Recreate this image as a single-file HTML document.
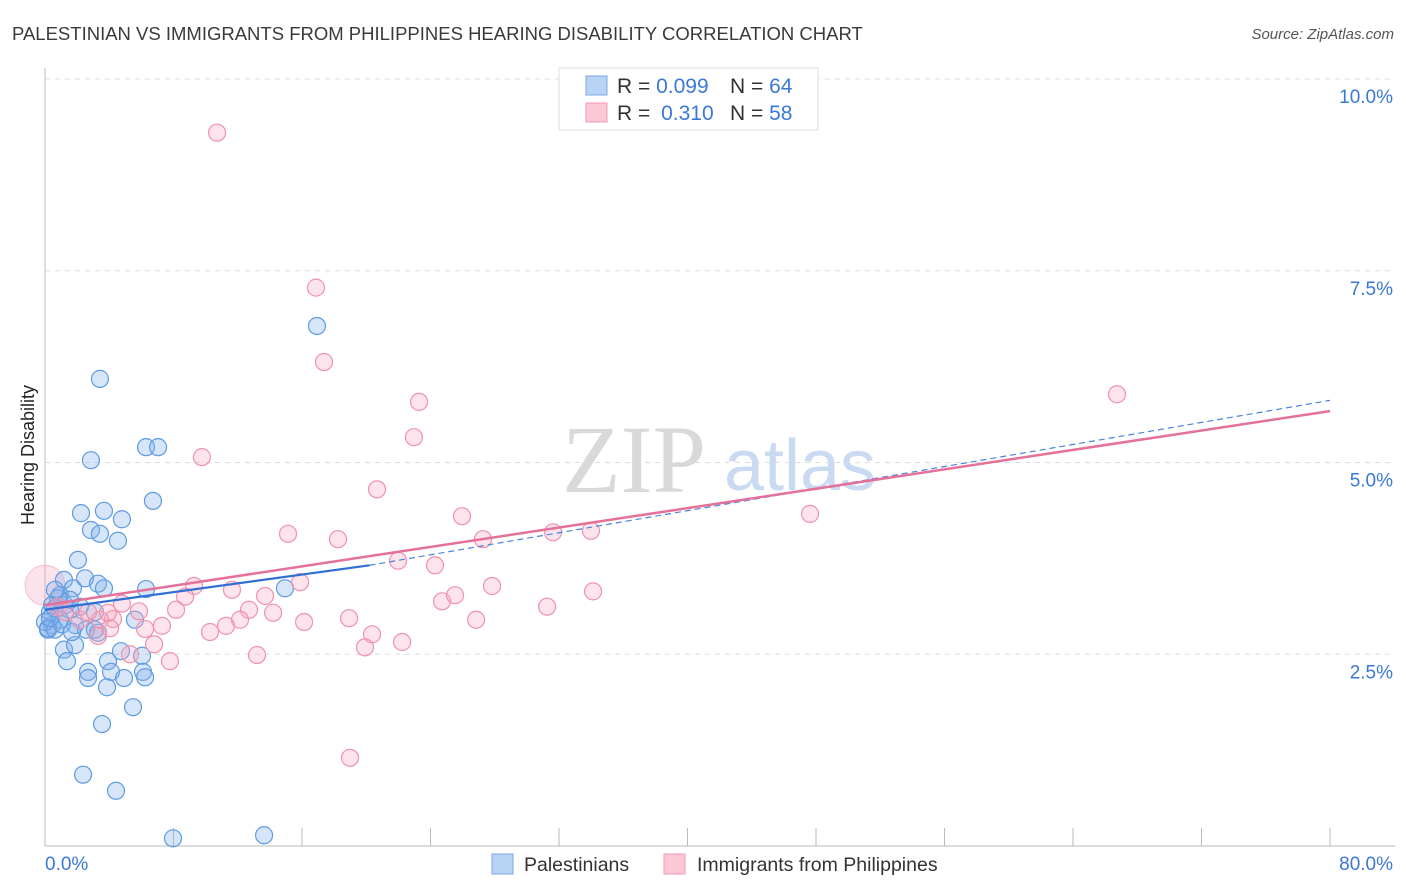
<!DOCTYPE html>
<html><head><meta charset="utf-8">
<style>
body{margin:0;background:#fff;font-family:"Liberation Sans",sans-serif;}
#wrap{position:relative;width:1406px;height:892px;overflow:hidden;}
</style></head>
<body>
<div id="wrap">
<svg id="chart" width="1406" height="892" xmlns="http://www.w3.org/2000/svg">
<text x="12" y="40" font-size="18.5" fill="#3a3a3a">PALESTINIAN VS IMMIGRANTS FROM PHILIPPINES HEARING DISABILITY CORRELATION CHART</text>
<text x="1394" y="39" font-size="15" font-style="italic" fill="#555" text-anchor="end">Source: ZipAtlas.com</text>
<text x="634" y="492" font-size="96" fill="#d9d9d9" font-family="Liberation Serif" text-anchor="middle">ZIP</text>
<text x="800" y="490" font-size="72" fill="#c9daf2" text-anchor="middle">atlas</text>
<text x="34" y="455" font-size="18" fill="#222" text-anchor="middle" transform="rotate(-90 34 455)">Hearing Disability</text>
<g id="grid"></g><g id="axes"></g><g id="pts"></g><g id="lines"></g>
<g>
<rect x="559" y="68" width="259" height="62" fill="#fff" stroke="#ddd"/>
<rect x="586" y="76" width="21" height="19" fill="#b9d3f5" stroke="#7aa8e6"/>
<rect x="586" y="103" width="21" height="19" fill="#fcc8d6" stroke="#f09ab2"/>
<text x="617" y="93" font-size="21" fill="#333">R = <tspan fill="#3b78d8">0.099</tspan><tspan x="730">N = </tspan><tspan fill="#3b78d8">64</tspan></text>
<text x="617" y="120" font-size="21" fill="#333">R = <tspan fill="#3b78d8" dx="5">0.310</tspan><tspan x="730">N = </tspan><tspan fill="#3b78d8">58</tspan></text>
</g>
<g>
<rect x="492" y="854" width="21" height="20" fill="#b9d3f5" stroke="#7aa8e6"/>
<text x="524" y="871" font-size="19.5" fill="#333">Palestinians</text>
<rect x="664" y="854" width="21" height="20" fill="#fcc8d6" stroke="#f09ab2"/>
<text x="697" y="871" font-size="19.5" fill="#333">Immigrants from Philippines</text>
</g>
</svg>
</div>
<script>
const blueX=[3.42,16.93,6.29,7.04,2.86,6.72,2.24,3.67,4.79,2.86,3.42,4.54,2.05,1.18,2.49,3.30,3.67,6.29,1.74,0.93,1.25,1.56,0.62,0.31,0.93,0.44,0.19,1.87,2.55,3.30,5.60,1.18,1.87,1.37,3.92,4.73,6.04,2.68,4.11,6.10,2.68,4.92,3.86,6.23,5.48,3.55,2.37,4.42,7.97,13.64,14.94,0,0.19,0.62,2.18,1.56,0.81,0.44,3.11,0.62,1.06,1.68,3.11,0.31];
const blueY=[6.09,6.78,5.20,5.20,5.03,4.50,4.34,4.37,4.26,4.12,4.07,3.98,3.73,3.47,3.49,3.42,3.36,3.35,3.36,3.27,3.14,3.08,3.10,3.05,2.95,2.88,2.82,2.88,2.82,2.78,2.95,2.56,2.62,2.41,2.41,2.54,2.48,2.27,2.27,2.27,2.19,2.19,2.07,2.20,1.81,1.59,0.93,0.72,0.10,0.14,3.36,2.92,2.84,2.82,3.12,3.21,3.23,3.14,3.05,3.34,2.89,2.79,2.82,2.97];
const pinkX=[10.71,16.87,17.37,66.74,23.29,22.97,9.77,20.67,47.63,25.96,15.13,18.24,27.27,31.63,33.99,21.98,24.28,27.83,34.12,9.28,8.72,11.64,13.70,15.88,4.79,5.85,8.16,12.70,14.20,24.72,25.53,31.26,4.23,7.28,6.23,12.14,16.13,18.93,26.84,10.27,11.27,20.36,3.30,5.29,6.79,7.78,13.20,19.92,22.23,18.99,0.81,1.25,2.18,3.42,4.05,2.68,3.92];
const pinkY=[9.30,7.28,6.31,5.89,5.79,5.33,5.07,4.65,4.33,4.30,4.07,4.00,4.00,4.09,4.11,3.72,3.66,3.39,3.32,3.39,3.25,3.34,3.26,3.44,3.16,3.06,3.08,3.08,3.04,3.19,3.27,3.12,2.96,2.87,2.83,2.95,2.92,2.97,2.95,2.79,2.87,2.76,2.74,2.50,2.63,2.41,2.49,2.59,2.66,1.15,3.12,3.05,2.95,2.95,2.84,3.05,3.04];
const yTicks=[2.5,5.0,7.5,10.0];
const xTicks=[0,8,16,24,32,40,48,56,64,72,80];
const blueTrend=[[0,3.08],[20.2,3.66]];
const blueDash=[[20.2,3.66],[80,5.81]];
const pinkTrend=[[0,3.14],[80,5.67]];
const NS='http://www.w3.org/2000/svg';
const X=v=>45+v/80*1285, Y=v=>846-v*76.7;
function mk(tag,attrs,parent){const e=document.createElementNS(NS,tag);for(const k in attrs)e.setAttribute(k,attrs[k]);parent.appendChild(e);return e;}
const grid=document.getElementById('grid'),axes=document.getElementById('axes'),pts=document.getElementById('pts'),lines=document.getElementById('lines');
yTicks.forEach(t=>{const l=mk('line',{x1:45,x2:1395,y1:Y(t),y2:Y(t),stroke:'#ddd','stroke-dasharray':'5,5'},grid);


const tx=mk('text',{x:1393,y:Y(t)+24,'font-size':19,fill:'#3b78d8','text-anchor':'end'},axes);tx.textContent=t.toFixed(1)+'%';

});
mk('line',{x1:45,x2:45,y1:68,y2:846,stroke:'#bbb'},axes);
mk('line',{x1:45,x2:1395,y1:846,y2:846,stroke:'#bbb'},axes);
xTicks.forEach(t=>{const l=mk('line',{x1:X(t),x2:X(t),y1:828,y2:846,stroke:'#bbb'},axes);

});
const xl0=mk('text',{x:45,y:870,'font-size':19,fill:'#3b78d8'},axes);xl0.textContent='0.0%';


const xl1=mk('text',{x:1393,y:870,'font-size':19,fill:'#3b78d8','text-anchor':'end'},axes);xl1.textContent='80.0%';


const big=mk('circle',{cx:X(0),cy:Y(3.40),r:20,fill:'rgba(245,160,185,0.3)',stroke:'rgba(240,140,170,0.5)'},pts);


blueX.forEach((v,i)=>{const c=mk('circle',{cx:X(v),cy:Y(blueY[i]),r:8.5,fill:'rgba(130,175,235,0.33)',stroke:'#5e9be2','stroke-width':1.2},pts);

});
pinkX.forEach((v,i)=>{const c=mk('circle',{cx:X(v),cy:Y(pinkY[i]),r:8.5,fill:'rgba(248,170,195,0.33)',stroke:'#ef92ae','stroke-width':1.2},pts);

});
const bd=mk('line',{x1:X(blueDash[0][0]),y1:Y(blueDash[0][1]),x2:X(blueDash[1][0]),y2:Y(blueDash[1][1]),stroke:'#4a84da','stroke-width':1.2,'stroke-dasharray':'6,4'},lines);


const pt=mk('line',{x1:X(pinkTrend[0][0]),y1:Y(pinkTrend[0][1]),x2:X(pinkTrend[1][0]),y2:Y(pinkTrend[1][1]),stroke:'#e5709a','stroke-width':2.5},lines);


const bt=mk('line',{x1:X(blueTrend[0][0]),y1:Y(blueTrend[0][1]),x2:X(blueTrend[1][0]),y2:Y(blueTrend[1][1]),stroke:'#2f6fd6','stroke-width':2.2},lines);


</script>
</body></html>
